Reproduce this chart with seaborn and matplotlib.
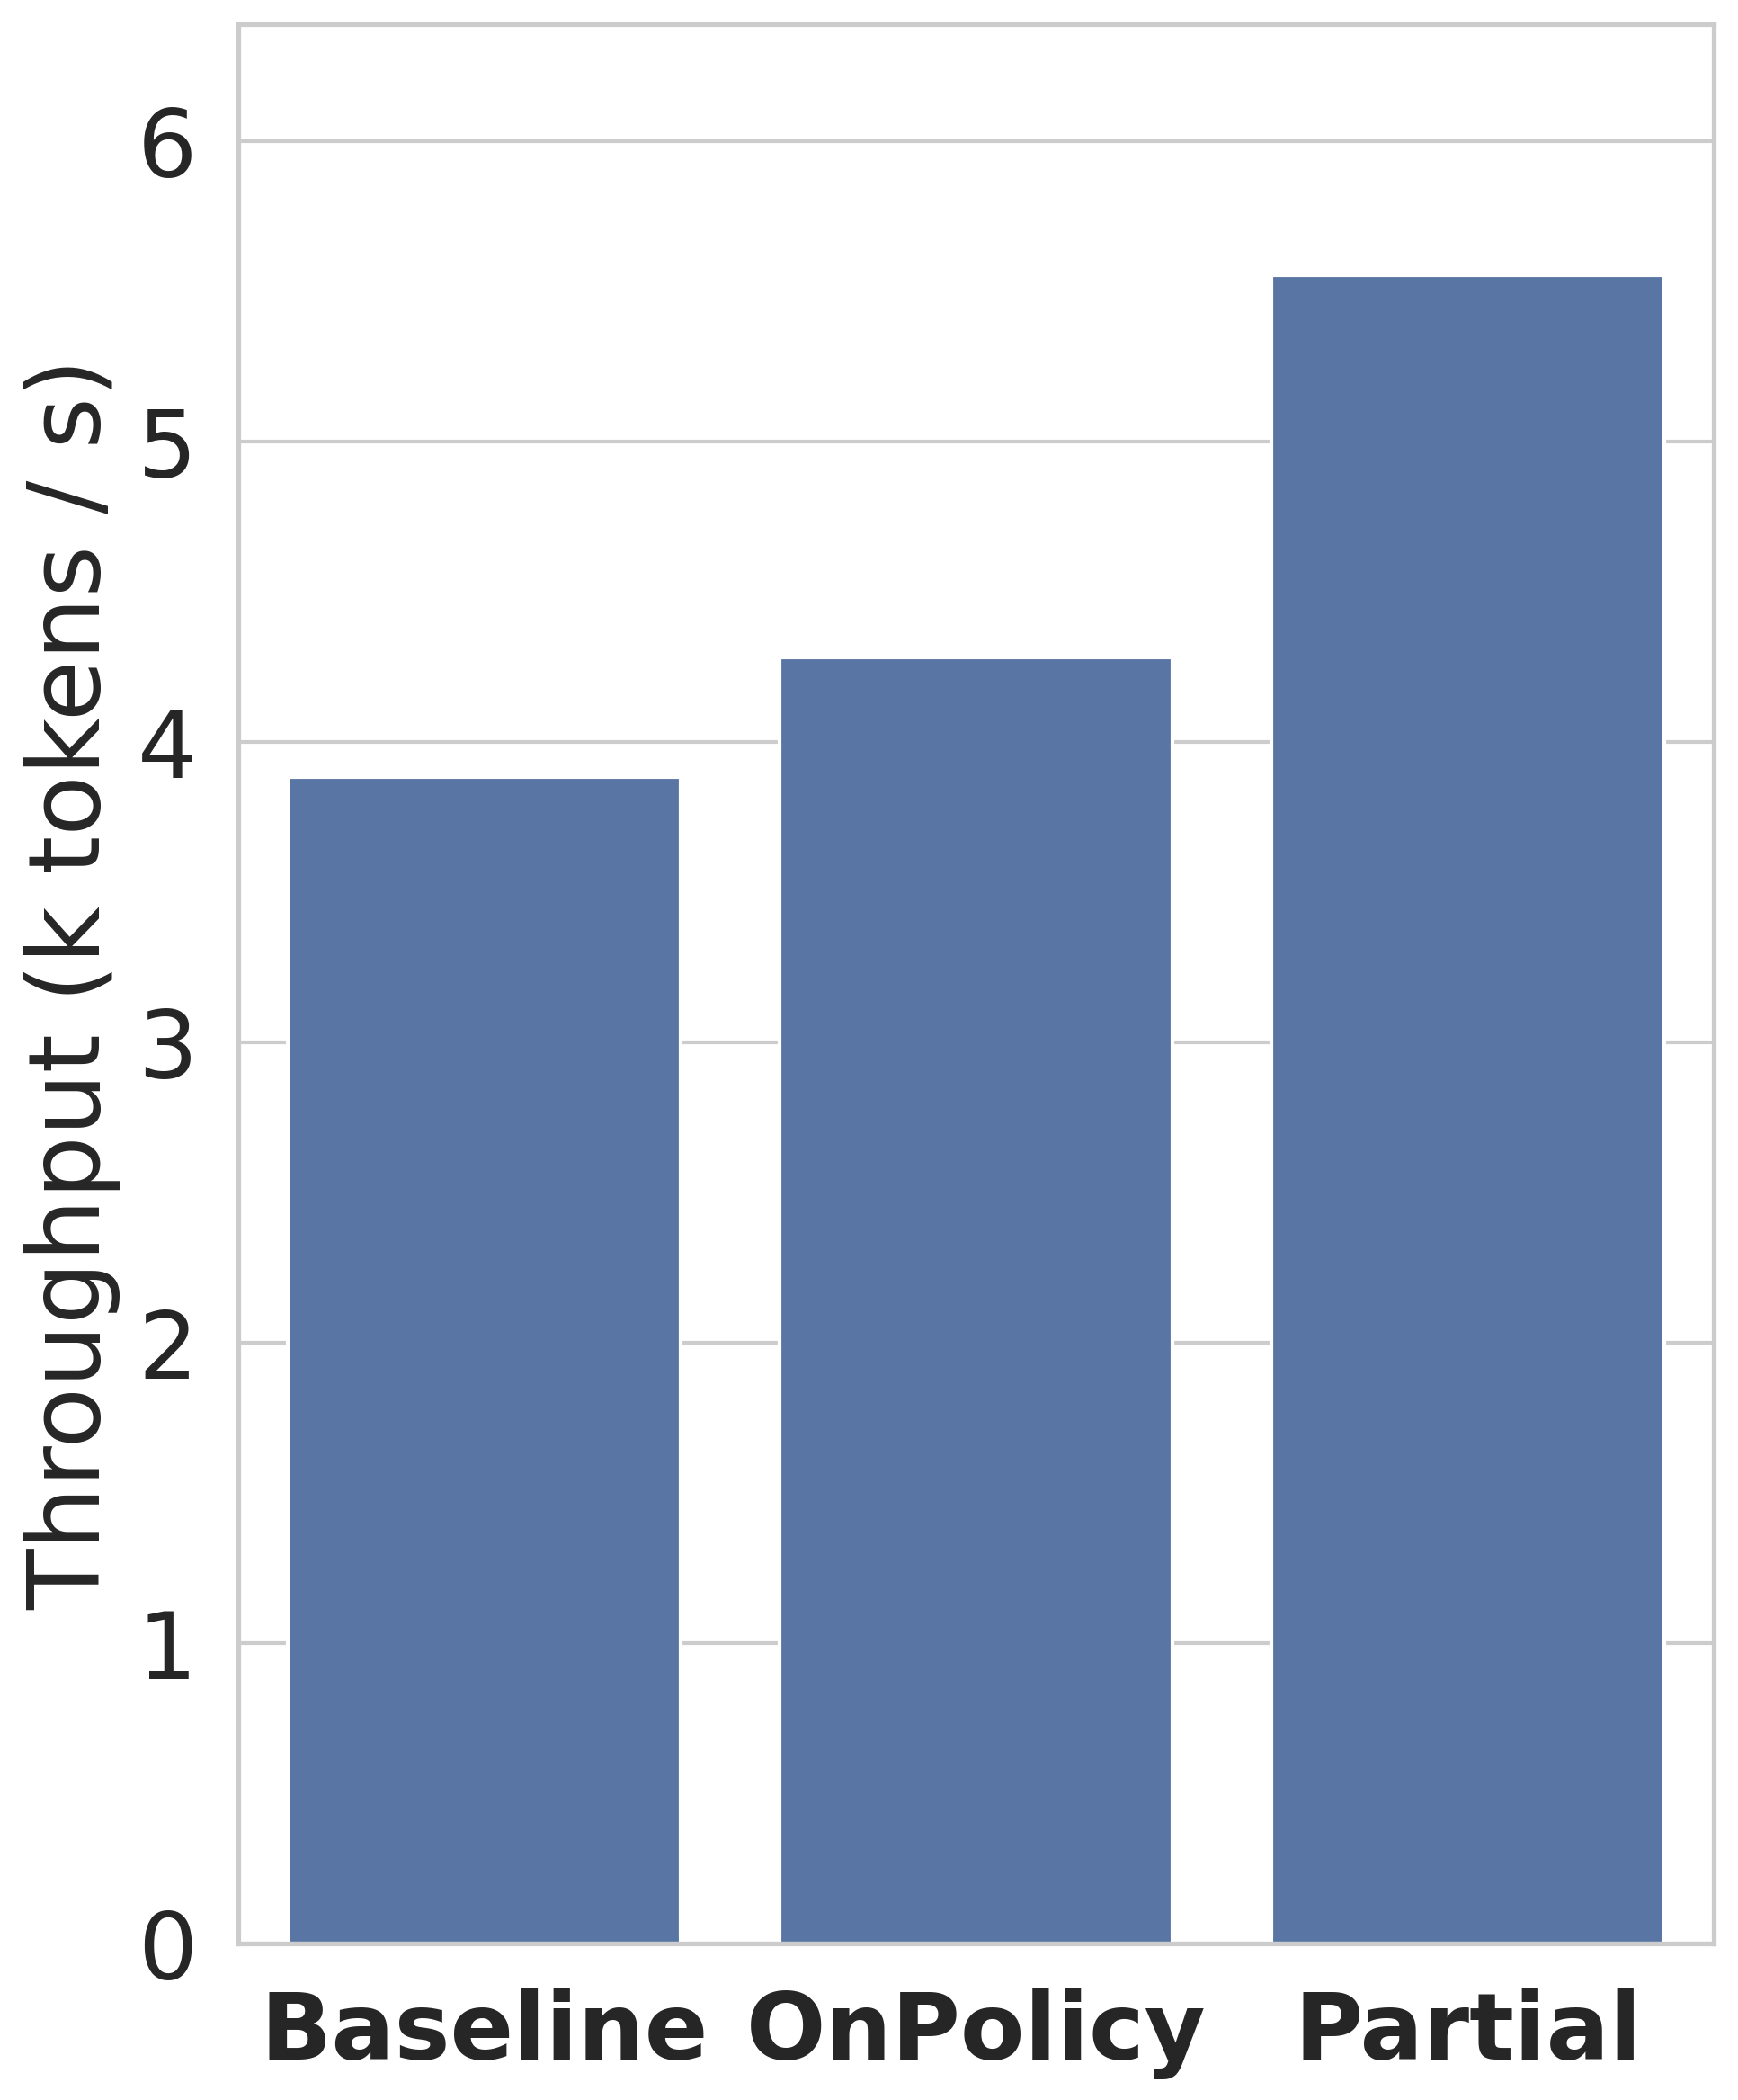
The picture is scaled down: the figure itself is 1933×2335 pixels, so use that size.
import matplotlib
matplotlib.use("Agg")
from matplotlib import pyplot as plt
import pandas as pd
import seaborn as sns

methods = ["Baseline", "OnPolicy", "Partial"]
throughput = [3.885, 4.283, 5.555]

df = pd.DataFrame({"method": methods, "throughput": throughput})

sns.set_theme(style="whitegrid")

fig = plt.figure(figsize=(1933 / 300, 2335 / 300), dpi=300)
ax = fig.add_axes([265 / 1933, 1 - 2161 / 2335, (1906 - 265) / 1933, (2161 - 27) / 2335])

sns.barplot(data=df, x="method", y="throughput", ax=ax, width=0.8)

ax.set_ylim(0, 6.39)
ax.set_yticks([0, 1, 2, 3, 4, 5, 6])
ax.set_xlabel("")
ax.set_ylabel("Throughput (k tokens / s)", fontsize=26.5, labelpad=4.5)
ax.tick_params(axis="y", labelsize=25, pad=5)
ax.tick_params(axis="x", labelsize=25, pad=6)
for lbl in ax.get_xticklabels():
    lbl.set_fontweight("bold")

for sp in ax.spines.values():
    sp.set_linewidth(1.25)
    sp.set_color("#cccccc")
ax.grid(axis="y", linewidth=1.0, color="#cccccc")
ax.grid(axis="x", visible=False)

fig.savefig("out.png", dpi=300)
